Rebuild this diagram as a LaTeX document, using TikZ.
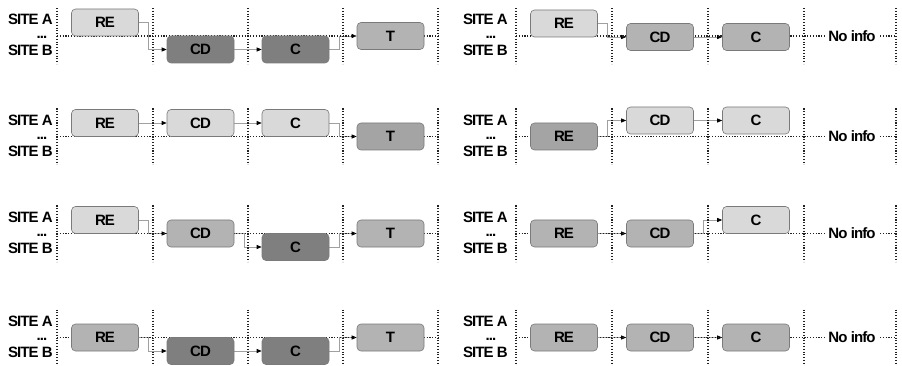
\documentclass[tikz,border=0pt]{standalone}
\usepackage{fontspec}
\setmainfont{Liberation Sans}
\newfontfamily\lblfamily[LetterSpace=-6]{Liberation Sans}
\newcommand\lblfont{\lblfamily\bfseries\fontsize{15}{17}\selectfont}
\usetikzlibrary{arrows.meta}
\pgfdeclarelayer{bg}
\pgfdeclarelayer{conn}
\pgfdeclarelayer{grid}
\pgfsetlayers{bg,conn,grid,main}
\definecolor{cl}{HTML}{D9D9D9}
\definecolor{cm}{HTML}{B3B3B3}
\definecolor{cmd}{HTML}{A4A4A4}
\definecolor{cdk}{HTML}{7F7F7F}
\definecolor{boxedge}{HTML}{7A7A7A}
\definecolor{conngray}{HTML}{A0A0A0}
\definecolor{gridc}{HTML}{222222}
\tikzset{
  box/.style={draw=boxedge, line width=0.6pt, rounded corners=4pt, minimum width=67pt, minimum height=27pt, inner sep=0pt, font=\lblfont},
  lt/.style={box, fill=cl},
  md/.style={box, fill=cm},
  mdd/.style={box, fill=cmd},
  dk/.style={box, fill=cdk},
  link/.style={draw=conngray, line width=0.7pt, -{Triangle[length=5pt,width=4pt,color=black]}},
  gridline/.style={draw=gridc, line width=1.3pt, dash pattern=on 1.1pt off 1.7pt},
  site/.style={font=\lblfont, inner sep=0pt, anchor=base east},
  dots/.style={font=\lblfont, inner sep=0pt, anchor=base},
  noinfo/.style={font=\lblfont, fill=white, inner sep=3pt},
}
\newcommand\drawLeftGrid[1]{%
  \begin{pgfonlayer}{grid}
    \foreach \xx in {57,153,248,343,438} \draw[gridline] (\xx,-28) -- (\xx,28);
    \draw[gridline] (57,0) -- (438,0);
  \end{pgfonlayer}
  \node[site] (#1sa) at (53,-11) {SITE A};
  \node[dots] (#1dd) at (42,3) {...};
  \node[site] (#1sb) at (53,20) {SITE B};
}
\newcommand\drawRightGrid[1]{%
  \begin{pgfonlayer}{grid}
    \foreach \xx in {516,612,708,804,896} \draw[gridline] (\xx,-28) -- (\xx,28);
    \draw[gridline] (516,0) -- (896,0);
  \end{pgfonlayer}
  \node[site] (#1sa) at (508,-11) {SITE A};
  \node[dots] (#1dd) at (491,3) {...};
  \node[site] (#1sb) at (508,20) {SITE B};
  \node[noinfo] (#1ni) at (852,0) {No info};
}
\begin{document}
\begin{tikzpicture}[x=1pt,y=-1pt]
\begin{pgfonlayer}{bg}
  \fill[white] (0,0) rectangle (902,366);
\end{pgfonlayer}
\useasboundingbox (0,0) rectangle (902,366);

% ---------- Row 1 ----------
\begin{scope}[shift={(0,36)}]
  \drawLeftGrid{a}
  \node[lt] (aRE) at (105,-13.5) {RE};
  \node[dk] (aCD) at (200.5,13.5) {CD};
  \node[dk] (aC) at (295.5,13.5) {C};
  \node[md] (aT) at (390.5,0) {T};
  \begin{pgfonlayer}{conn}
    \draw[link] (aRE.east) -- ++(10,0) |- (aCD.west);
    \draw[link] (aCD) -- (aC);
    \draw[link] (aC.east) -- ++(10,0) |- (aT.west);
  \end{pgfonlayer}

  \drawRightGrid{b}
  \node[lt] (bRE) at (564,-12.5) {RE};
  \node[md] (bCD) at (660,1) {CD};
  \node[md] (bC) at (756,1) {C};
  \begin{pgfonlayer}{conn}
    \draw[link] (bRE.east) -- ++(10,0) |- (bCD.west);
    \draw[link] (bCD) -- (bC);
  \end{pgfonlayer}
\end{scope}

% ---------- Row 2 ----------
\begin{scope}[shift={(0,136.5)}]
  \drawLeftGrid{c}
  \node[lt] (cRE) at (105,-13.5) {RE};
  \node[lt] (cCD) at (200.5,-13.5) {CD};
  \node[lt] (cC) at (295.5,-13.5) {C};
  \node[mdd] (cT) at (390.5,0) {T};
  \begin{pgfonlayer}{conn}
    \draw[link] (cRE) -- (cCD);
    \draw[link] (cCD) -- (cC);
    \draw[link] (cC.east) -- ++(10,0) |- (cT.west);
  \end{pgfonlayer}

  \drawRightGrid{d}
  \node[mdd] (dRE) at (564,0) {RE};
  \node[lt] (dCD) at (660,-16) {CD};
  \node[lt] (dC) at (756,-16) {C};
  \begin{pgfonlayer}{conn}
    \draw[link] (dRE.east) -- ++(10,0) |- (dCD.west);
    \draw[link] (dCD) -- (dC);
  \end{pgfonlayer}
\end{scope}

% ---------- Row 3 ----------
\begin{scope}[shift={(0,233.5)}]
  \drawLeftGrid{e}
  \node[lt] (eRE) at (105,-13.5) {RE};
  \node[md] (eCD) at (200.5,0) {CD};
  \node[dk] (eC) at (295.5,13.5) {C};
  \node[md] (eT) at (390.5,0) {T};
  \begin{pgfonlayer}{conn}
    \draw[link] (eRE.east) -- ++(10,0) |- (eCD.west);
    \draw[link] (eCD.east) -- ++(10,0) |- (eC.west);
    \draw[link] (eC.east) -- ++(10,0) |- (eT.west);
  \end{pgfonlayer}

  \drawRightGrid{f}
  \node[md] (fRE) at (564,0) {RE};
  \node[md] (fCD) at (660,0) {CD};
  \node[lt] (fC) at (756,-13.5) {C};
  \begin{pgfonlayer}{conn}
    \draw[link] (fRE) -- (fCD);
    \draw[link] (fCD.east) -- ++(10,0) |- (fC.west);
  \end{pgfonlayer}
\end{scope}

% ---------- Row 4 ----------
\begin{scope}[shift={(0,337.5)}]
  \drawLeftGrid{g}
  \node[md] (gRE) at (105,0) {RE};
  \node[dk] (gCD) at (200.5,13.5) {CD};
  \node[dk] (gC) at (295.5,13.5) {C};
  \node[md] (gT) at (390.5,0) {T};
  \begin{pgfonlayer}{conn}
    \draw[link] (gRE.east) -- ++(10,0) |- (gCD.west);
    \draw[link] (gCD) -- (gC);
    \draw[link] (gC.east) -- ++(10,0) |- (gT.west);
  \end{pgfonlayer}

  \drawRightGrid{h}
  \node[md] (hRE) at (564,0) {RE};
  \node[md] (hCD) at (660,0) {CD};
  \node[md] (hC) at (756,0) {C};
  \begin{pgfonlayer}{conn}
    \draw[link] (hRE) -- (hCD);
    \draw[link] (hCD) -- (hC);
  \end{pgfonlayer}
\end{scope}
\end{tikzpicture}
\end{document}
